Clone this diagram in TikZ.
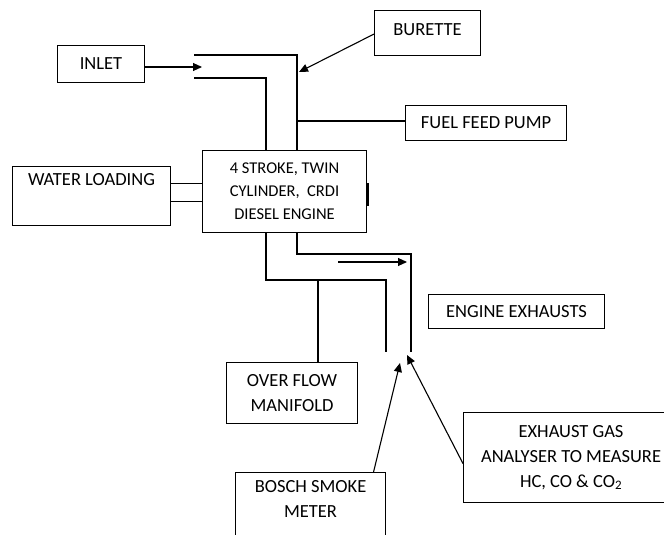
\documentclass[tikz,border=0pt]{standalone}
\usepackage{fontspec}
\setmainfont{Carlito}
\usetikzlibrary{arrows.meta, positioning}
\tikzset{
box/.style={draw, line width=1.1pt, align=center, inner sep=0pt, font=\fontsize{18.5}{25}\selectfont}, % every labelled block
pipe/.style={line width=1.1pt}, % walls of the ducts
flow/.style={line width=1.1pt, -{Triangle[length=9pt, width=8pt]}}, % arrows into the ducts
}

\begin{document}
\begin{tikzpicture}[x=1pt, y=-1pt]
\useasboundingbox (0,0) rectangle (664,535);

\node[box, anchor=north west, minimum width=87pt, minimum height=37pt] at (57,45) (inlet) {INLET};
\node[box, anchor=north west, minimum width=106pt, minimum height=45pt, text height=13pt, text depth=9pt] at (374,10) (burette) {BURETTE};
\node[box, anchor=north west, minimum width=161pt, minimum height=35pt] at (405,105) (pump) {FUEL FEED PUMP};
\node[box, anchor=north west, minimum width=164pt, minimum height=82pt, font=\fontsize{16.5}{23}\selectfont] at (202,150) (engine) {4 STROKE, TWIN\\CYLINDER,\ \ CRDI\\DIESEL\ ENGINE};
\node[box, anchor=north west, minimum width=158pt, minimum height=59pt] at (12,166) (water) {WATER LOADING\\ \strut};
\node[box, anchor=north west, minimum width=131pt, minimum height=61pt] at (226,362) (manifold) {OVER FLOW\\MANIFOLD};
\node[box, anchor=north west, minimum width=176pt, minimum height=34pt] at (428,294) (exhaust) {ENGINE EXHAUSTS};
\node[box, anchor=north west, minimum width=215pt, minimum height=90pt] at (463,412) (analyser) {EXHAUST GAS\\ANALYSER TO MEASURE\\HC, CO \& CO\textsubscript{2}};
\node[box, anchor=north west, minimum width=150pt, minimum height=86pt] at (235,472) (bosch) {BOSCH SMOKE\\METER\\ \strut};

% inlet duct
\draw[pipe] (194,55) -- (297,55) -- (297,150);
\draw[pipe] (194,78) -- (266,78) -- (266,150);
% exhaust duct
\draw[pipe] (297,232) -- (297,254) -- (411,254) -- (411,352);
\draw[pipe] (266,232) -- (266,280) -- (386,280) -- (386,352);
\draw[line width=2.5pt] (367.5,183) -- (367.5,206);

\coordinate (airin) at (202,67);
\coordinate (fuelin) at (299,72);
\coordinate (fueltap) at (297,121);
\coordinate (ovtap) at (318,280);
\coordinate (smokeprobe) at (400,363);
\coordinate (gasprobe) at (407,355);

\draw[flow] (inlet.east |- airin) -- (airin);
\draw[flow] ([yshift=-1pt]burette.west) -- (fuelin);
\draw[pipe] (fueltap) -- (fueltap -| pump.west);
\draw[pipe] ([yshift=12.5pt]water.east) -- ([yshift=12.5pt]water.east -| engine.west);
\draw[pipe] ([yshift=-5.5pt]water.east) -- ([yshift=-5.5pt]water.east -| engine.west);
\draw[flow] (338,262) -- (407,262);
\draw[pipe] (ovtap) -- (ovtap |- manifold.north);
\draw[flow] ([xshift=63pt]bosch.north) -- (smokeprobe);
\draw[flow] ([yshift=-6pt]analyser.west) -- (gasprobe);
\end{tikzpicture}
\end{document}
